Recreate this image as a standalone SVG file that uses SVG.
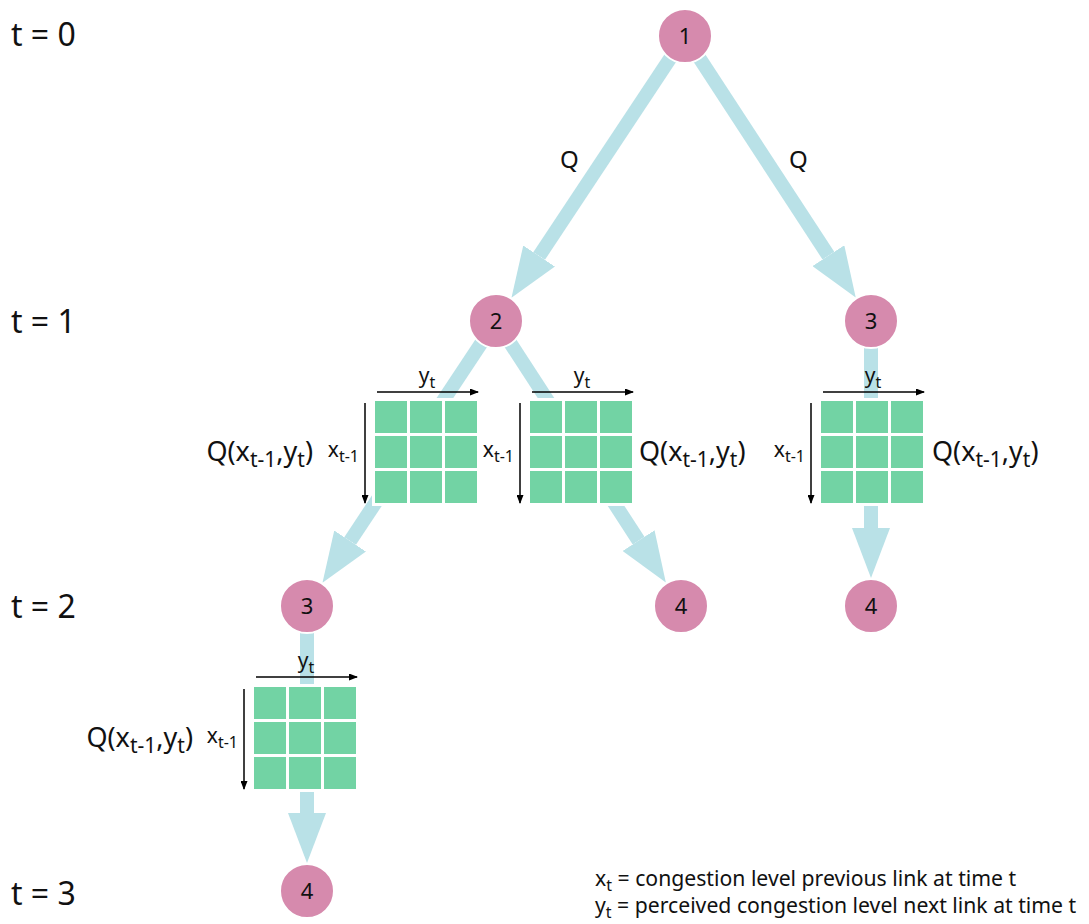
<svg xmlns="http://www.w3.org/2000/svg" width="1089" height="924" viewBox="0 0 1089 924">
<style>
text{font-family:"Noto Sans","Open Sans","DejaVu Sans",sans-serif;fill:#111}
.node circle{fill:#d68aad;stroke:#fff;stroke-width:2}
.node text{font-size:22px;text-anchor:middle}
.flow{stroke:#b9e1e7;stroke-width:14;fill:none;marker-end:url(#ah)}
.cell{fill:#72d3a4}
.bg{fill:#fff}
.ax{stroke:#000;stroke-width:1.5;marker-end:url(#sa)}
.tl{font-size:32px}
.q{font-size:24px}
.lab{font-size:27px}
.ax-l{font-size:21px}
.leg{font-size:21.2px}
</style>
<defs>
<marker id="ah" markerUnits="userSpaceOnUse" markerWidth="50" markerHeight="38" refX="0" refY="19" orient="auto"><path d="M0,0 L50,19 L0,38 Z" fill="#b9e1e7"/></marker>
<marker id="sa" markerUnits="userSpaceOnUse" markerWidth="9" markerHeight="7" refX="8" refY="3.5" orient="auto"><path d="M0,0 L9,3.5 L0,7 Z" fill="#000"/></marker>
<g id="grid3">
<rect class="bg" x="-3" y="-3" width="108" height="108"/>
<rect class="cell" x="0" y="0" width="32" height="32"/><rect class="cell" x="35" y="0" width="32" height="32"/><rect class="cell" x="70" y="0" width="32" height="32"/>
<rect class="cell" x="0" y="35" width="32" height="32"/><rect class="cell" x="35" y="35" width="32" height="32"/><rect class="cell" x="70" y="35" width="32" height="32"/>
<rect class="cell" x="0" y="70" width="32" height="32"/><rect class="cell" x="35" y="70" width="32" height="32"/><rect class="cell" x="70" y="70" width="32" height="32"/>
</g>
</defs>
<rect width="1089" height="924" fill="#fff"/>

<g id="time-labels">
<text class="tl" x="11" y="46">t = 0</text>
<text class="tl" x="11" y="333">t = 1</text>
<text class="tl" x="11" y="618">t = 2</text>
<text class="tl" x="11" y="905">t = 3</text>
</g>

<g id="connectors">
<line class="flow" x1="685" y1="36" x2="539.1" y2="256.0"/>
<line class="flow" x1="685" y1="36" x2="828.4" y2="255.7"/>
<line class="flow" x1="496" y1="321" x2="350.1" y2="541.0"/>
<line class="flow" x1="496" y1="321" x2="638.6" y2="540.6"/>
<line class="flow" x1="871" y1="321" x2="871" y2="528"/>
<line class="flow" x1="307" y1="606" x2="307" y2="813"/>
<text class="q" x="560" y="168">Q</text>
<text class="q" x="789" y="168">Q</text>
</g>

<g id="n1" class="node"><circle cx="685" cy="36" r="27"/><text x="685" y="44">1</text></g>
<g id="n2" class="node"><circle cx="496" cy="321" r="27"/><text x="496" y="329">2</text></g>
<g id="n3a" class="node"><circle cx="871" cy="321" r="27"/><text x="871" y="329">3</text></g>
<g id="n3b" class="node"><circle cx="307" cy="606" r="27"/><text x="307" y="614">3</text></g>
<g id="n4a" class="node"><circle cx="681" cy="606" r="27"/><text x="681" y="614">4</text></g>
<g id="n4b" class="node"><circle cx="871" cy="606" r="27"/><text x="871" y="614">4</text></g>
<g id="n4c" class="node"><circle cx="307" cy="891" r="27"/><text x="307" y="899">4</text></g>

<g id="q-left">
<use href="#grid3" x="375" y="401"/>
<line class="ax" x1="377" y1="392" x2="478" y2="392"/>
<line class="ax" x1="365" y1="403" x2="365" y2="503"/>
<text class="ax-l" x="427" y="383" text-anchor="middle">y<tspan font-size="16" dy="5">t</tspan></text>
<text class="ax-l" x="359" y="457" text-anchor="end">x<tspan font-size="16" dy="5">t-1</tspan></text>
<text class="lab" x="313" y="461" text-anchor="end">Q(x<tspan font-size="21" dy="6">t-1</tspan><tspan dy="-6">,y</tspan><tspan font-size="21" dy="6">t</tspan><tspan dy="-6">)</tspan></text>
</g>

<g id="q-mid">
<use href="#grid3" x="530" y="401"/>
<line class="ax" x1="532" y1="392" x2="633" y2="392"/>
<line class="ax" x1="520" y1="403" x2="520" y2="503"/>
<text class="ax-l" x="582" y="383" text-anchor="middle">y<tspan font-size="16" dy="5">t</tspan></text>
<text class="ax-l" x="514" y="457" text-anchor="end">x<tspan font-size="16" dy="5">t-1</tspan></text>
<text class="lab" x="639" y="461">Q(x<tspan font-size="21" dy="6">t-1</tspan><tspan dy="-6">,y</tspan><tspan font-size="21" dy="6">t</tspan><tspan dy="-6">)</tspan></text>
</g>

<g id="q-right">
<use href="#grid3" x="821" y="401"/>
<line class="ax" x1="823" y1="392" x2="924" y2="392"/>
<line class="ax" x1="811" y1="403" x2="811" y2="503"/>
<text class="ax-l" x="873" y="383" text-anchor="middle">y<tspan font-size="16" dy="5">t</tspan></text>
<text class="ax-l" x="805" y="457" text-anchor="end">x<tspan font-size="16" dy="5">t-1</tspan></text>
<text class="lab" x="932" y="461">Q(x<tspan font-size="21" dy="6">t-1</tspan><tspan dy="-6">,y</tspan><tspan font-size="21" dy="6">t</tspan><tspan dy="-6">)</tspan></text>
</g>

<g id="q-bottom">
<use href="#grid3" x="254" y="687"/>
<line class="ax" x1="256" y1="677" x2="357" y2="677"/>
<line class="ax" x1="244" y1="689" x2="244" y2="789"/>
<text class="ax-l" x="306" y="668" text-anchor="middle">y<tspan font-size="16" dy="5">t</tspan></text>
<text class="ax-l" x="238" y="743" text-anchor="end">x<tspan font-size="16" dy="5">t-1</tspan></text>
<text class="lab" x="193" y="747" text-anchor="end">Q(x<tspan font-size="21" dy="6">t-1</tspan><tspan dy="-6">,y</tspan><tspan font-size="21" dy="6">t</tspan><tspan dy="-6">)</tspan></text>
</g>

<g id="legend">
<text class="leg" x="595" y="886">x<tspan font-size="16" dy="5">t</tspan><tspan dy="-5"> = congestion level previous link at time t</tspan></text>
<text class="leg" x="595" y="913">y<tspan font-size="16" dy="5">t</tspan><tspan dy="-5"> = perceived congestion level next link at time t</tspan></text>
</g>
</svg>
